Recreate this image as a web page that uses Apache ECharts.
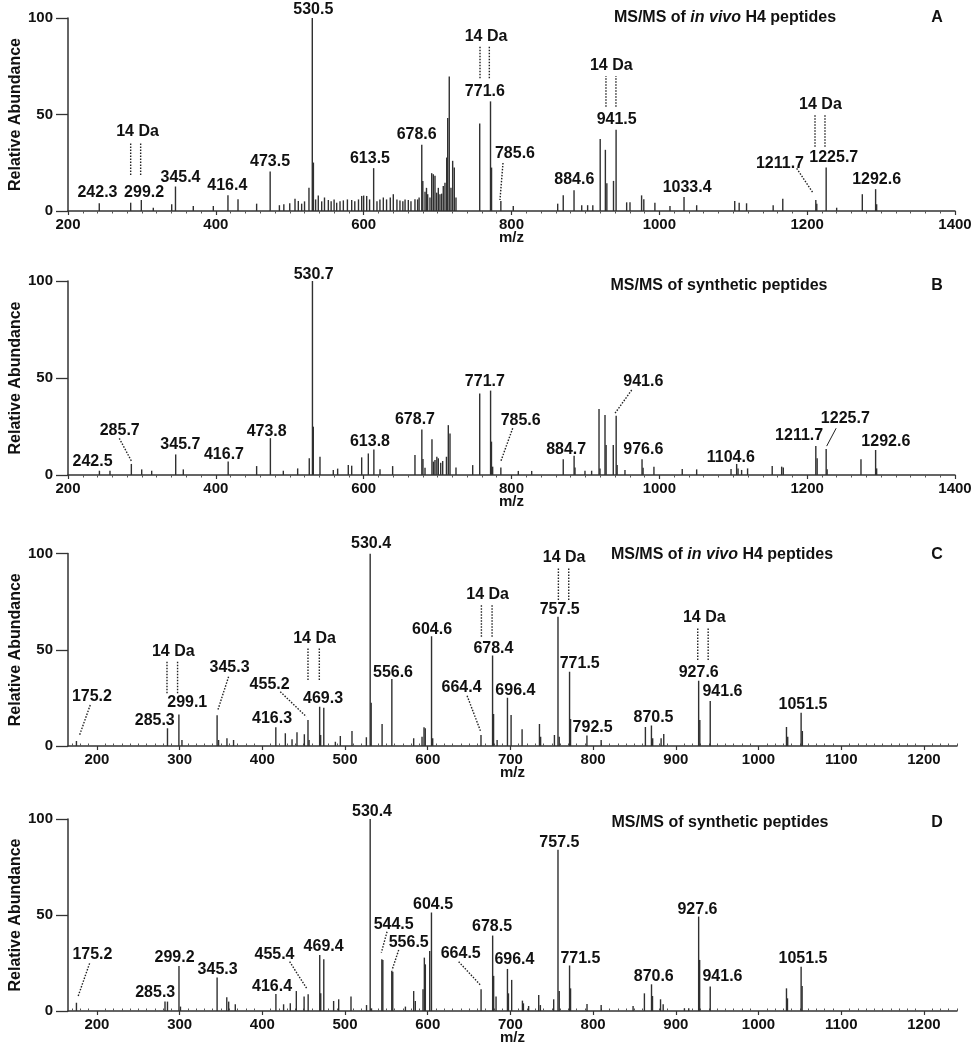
<!DOCTYPE html>
<html><head><meta charset="utf-8">
<script src="https://cdn.jsdelivr.net/npm/echarts@6/dist/echarts.min.js"></script>
<style>html,body{margin:0;padding:0;background:#fff}#c{width:975px;height:1050px}</style>
</head><body><div id="c"></div>
<script>
// ---------------- DATA ----------------
// peaks: [m/z, relative abundance]
const aPeaks = [[242.3,4.0],[284.8,4.3],[299.2,5.7],[315.4,1.7],[340.3,3.5],[345.4,12.7],[369.5,2.6],[396.6,2.6],[416.4,8.1],[430,6.1],[455.2,3.8],[473.5,20.5],[486,3],[492,3.5],[500,4],[507.1,6.4],[511.6,5.2],[516.1,3.8],[520,5],[526,12.1],[530.5,100],[532,25.1],[535,6],[538.6,8],[543.2,5],[547,7],[552.2,5.7],[556,5],[560,6],[563.5,4.3],[568,5],[572.5,5.5],[578,6],[583.8,5.7],[588,5],[593,6],[597.3,7.8],[600,8],[604.1,7.8],[608,6],[613.5,22.2],[618,5],[622,6],[626.6,7],[631,6],[636,7],[640.1,8.7],[645,6],[649.1,5.5],[653,5],[656,6],[660.4,5.7],[664,5],[669.4,6.1],[673,6],[675,7],[678.6,34.3],[680,15.6],[683,10],[685,12],[686.6,8.7],[689.7,7],[692,19.6],[694.2,19],[696.5,18.2],[698.8,9.5],[701,12],[703.2,8.7],[705.5,9],[707.7,13],[710,14.7],[712.3,27.7],[713.7,48.2],[715.8,69.7],[718.1,12],[720.4,26],[722.6,22.5],[724.9,7],[757,45.4],[771.6,56.8],[773,22.5],[785.6,5.2],[802.4,2.6],[862.5,3.8],[870,8.1],[884.6,10.7],[895,3],[903,3],[910,3],[920,37.3],[927,31.7],[929,14.4],[938,15.6],[941.5,42.1],[955.8,4.5],[960.3,4.5],[976,8.1],[979,6.1],[994,4.3],[1014.4,2.6],[1033.4,7.3],[1050.5,3],[1102,5.2],[1108,4.3],[1118,4],[1154,3],[1167,6.4],[1211.7,5.7],[1213,3.8],[1225.7,22.5],[1239.9,1.7],[1274.6,8.7],[1292.6,11.3],[1294,3.5]];
const bPeaks = [[242.5,2.2],[256.8,2.2],[285.7,5.7],[299.7,2.9],[313.2,2.2],[345.7,10.6],[356,2.9],[416.7,7],[455.2,4.6],[473.8,19],[491.3,2.2],[510.7,3.4],[526.4,8.6],[530.7,100],[531.9,24.9],[540.9,9.4],[558.9,2.6],[564.8,3.3],[579.2,5.1],[583.8,4.8],[597.3,9.1],[606.3,11.1],[613.8,13.2],[622.1,2.9],[639.2,4.6],[669.4,10.3],[678.7,23.5],[680.2,8.2],[683,3.8],[692.4,18.4],[694.5,6.9],[696.5,7.7],[699,9.4],[701,8.6],[704.2,6.3],[706.9,7.2],[712,9.4],[714.5,25.7],[716.8,21.4],[724.9,3.9],[747.5,5.1],[757,42],[771.7,43.5],[772.9,17.2],[774.5,4.3],[785.6,3.9],[809.2,2.1],[827.3,2.1],[870,8.1],[884.7,9.9],[885.9,3.9],[899.4,2.2],[908.4,2.2],[918.4,34],[919.7,3.4],[926.5,30.9],[928,15.4],[937.7,15.4],[941.6,30.5],[942.9,5.1],[953.5,2.6],[976.6,8.1],[978,3.8],[992.7,4.3],[1031,3.1],[1050.5,2.9],[1097,3.1],[1104.6,5.7],[1106.5,3.4],[1111.3,2.6],[1119.4,3.4],[1152.7,4.6],[1165.5,4.3],[1167.7,3.9],[1211.7,14.9],[1213.5,8.6],[1225.7,13.4],[1227,2.9],[1272.8,8.1],[1292.6,12.9],[1294,3.4]];
const cPeaks = [[175.2,2.6],[285.3,9.2],[299.1,16.4],[302.8,3.1],[345.3,16],[347.1,3.1],[357.2,4],[365.2,3.1],[416.3,9.7],[427.8,6.6],[435.9,3.5],[441.9,7.1],[450.8,6.1],[455.2,13.5],[456.5,3.1],[469.3,20.4],[470.5,5.7],[474.3,19.9],[488.3,2.2],[494.3,5.2],[508.4,7.8],[525.8,4.5],[530.4,100],[531.6,22.5],[544.8,11.4],[556.6,34.8],[583,4],[593.1,4.8],[595.5,9.7],[597,9.2],[604.6,57],[606,4],[664.4,5.7],[678.4,47],[679.6,16.6],[683.9,3.1],[696.4,25.1],[700.8,16.1],[714.1,8.7],[735.1,11.4],[736.5,4.8],[753.2,5.7],[757.5,67.1],[759,4.8],[771.5,38.6],[772.7,14],[792.5,5.4],[809.7,3.1],[863.2,9.9],[870.5,10.6],[872,4],[882.2,4],[885.4,6.2],[927.6,33.9],[929,13.5],[941.6,23.4],[1033.8,9.9],[1035.3,4.8],[1051.5,17.3],[1053,7.8]];
const dPeaks = [[175.2,4.3],[282.3,4.9],[285.3,4.9],[299.2,23.5],[301,2.3],[345.3,17.4],[357,7.1],[359.3,4.9],[367.3,3.5],[416.4,8.9],[425.7,3.5],[433.8,4],[441.1,10.4],[450.5,7.5],[455.4,8.7],[469.4,29.2],[470.6,9.2],[474.3,27],[486.2,5.2],[492.3,6.1],[507.2,7.5],[526,3.1],[530.4,100],[532,1.4],[544.5,27],[545.7,26.6],[556.5,20.9],[557.7,20.5],[573,2.3],[583,10.4],[585,5.2],[594.3,11.3],[595.9,27.8],[597.1,24.3],[602.4,31.3],[604.5,51.3],[664.5,11.3],[678.5,39.3],[679.7,18.3],[682.6,7.5],[696.4,21.9],[697.6,9.2],[701.5,16.2],[714.5,5.4],[715.7,4],[722,2.6],[734.2,8.3],[736.2,3.1],[752.3,6.1],[757.5,84],[759,10.4],[771.5,23.7],[772.7,11.8],[792.6,3.7],[809.7,3.1],[848.3,2.6],[862,9.2],[870.6,13.9],[871.8,7.8],[881.5,6.1],[884.7,3.5],[910.4,1.4],[915.6,1.4],[927.6,49.2],[928.8,26.6],[941.6,12.7],[1033.8,11.8],[1035,6.6],[1051.5,23.1],[1052.7,13]];

// peak labels: [text, m/z of label centre, abundance of label centre]
const aLabels = [['242.3',239.9,9.7],['299.2',303,9.7],['345.4',352.2,17.3],['416.4',415.5,13.1],['473.5',473.3,25.5],['530.5',531.9,104.1],['613.5',608.5,27.3],['678.6',671.7,39.4],['771.6',764,61.8],['785.6',804.7,29.5],['884.6',885,16.1],['941.5',942.3,47.2],['1033.4',1037.6,12.1],['1211.7',1163.2,24.7],['1225.7',1236,27.6],['1292.6',1294,16.1]];
const bLabels = [['242.5',233.2,6.9],['285.7',270,22.8],['345.7',352,15.8],['416.7',411,10.3],['473.8',468.8,22.3],['530.7',532.4,103.1],['613.8',608.5,17.2],['678.7',669.4,28.4],['771.7',764,48.3],['785.6',812.4,28],['884.7',874,13.2],['941.6',978.3,48.1],['976.6',978.3,12.9],['1104.6',1096.7,8.9],['1211.7',1189.1,20.1],['1225.7',1251.6,29.2],['1292.6',1306.4,17.2]];
const cLabels = [['175.2',193.9,25.6],['285.3',269.9,13],['299.1',309.2,22.7],['345.3',360.4,40.7],['416.3',411.7,14],['455.2',408.8,32],['469.3',473.4,24.8],['530.4',531.4,104.9],['556.6',558,38.3],['604.6',605.2,60.3],['664.4',640.9,30.3],['678.4',679.4,50.8],['696.4',706,28.7],['757.5',759.6,71],['771.5',783.8,42.6],['792.5',799.4,9.7],['870.5',873,14.7],['927.6',927.7,38.3],['941.6',956.4,28.2],['1051.5',1053.8,21.3]];
const dLabels = [['175.2',194.5,29.2],['285.3',270.5,9.5],['299.2',293.9,27.8],['345.3',345.9,21.4],['416.4',411.7,12.7],['455.4',414.7,29.5],['469.4',474.1,33.5],['530.4',532.6,103.8],['544.5',558.8,44.8],['556.5',577,35.6],['604.5',606.4,55.6],['664.5',639.9,30],['678.5',677.8,43.9],['696.4',704.8,26.6],['757.5',759.2,87.7],['771.5',784.6,27.4],['870.6',873.3,17.9],['927.6',926.2,53],['941.6',956.4,17.9],['1051.5',1053.8,27.4]];

// leader lines: [m/z1, ab1, m/z2, ab2, dotted?]
const aLeaders = [[788.5,24.9,784.4,5.7,1],[1185.8,22.1,1208.3,9.2,1]];
const bLeaders = [[269.4,18.9,286.2,6.9,1],[801.6,24.1,785.4,6.9,1],[962.6,43.8,940,31.8,1],[1239.2,24.1,1226.4,14.9,0]];
const cLeaders = [[191.9,21.3,178.6,5.2,1],[359.2,36,345.9,18.3,1],[421.7,28.2,453.2,15.2,1],[647.6,26.1,663.7,7.9,1]];
const dLeaders = [[191.1,24.8,177,7.4,1],[433,25.7,454,11.5,1],[550.8,41.3,543.9,30.4,1],[564.9,31.8,556.9,21.4,1],[637.4,25.7,663.7,13.5,1]];

// "14 Da" brackets: [m/z left, m/z right, ab bottom, ab top, text m/z, text ab]
const aDa = [[284.8,298.3,18.7,35.1,294,41.1],[757.4,770,68.8,85.1,765.5,90.3],[927.8,941.3,54,69.9,935,75.3],[1210.6,1224.1,33.3,49.7,1218,54.9]];
const bDa = [];
const cDa = [[284.7,297.5,27.4,43.8,292.3,49],[455.2,468.9,34.3,50.8,463.1,55.9],[664.9,677.8,56.8,73.2,672.4,78.4],[758,770.5,75.8,92.3,764.9,98],[926.5,939.1,44.7,61.1,934.4,66.9]];
const dDa = [];

// axes
const abRange = [200, 1400];
const cdRange = [165, 1240];
const cdTicks = [200,300,400,500,600,700,800,900,1000,1100,1200];
const yTicks = [0, 50, 100];

const panelTitles = [['MS/MS of ','in vivo',' H4 peptides','A'],['MS/MS of synthetic peptides','','','B'],['MS/MS of ','in vivo',' H4 peptides','C'],['MS/MS of synthetic peptides','','','D']];

// ---------------- LAYOUT / STYLE ----------------
const FONT = '"Liberation Sans", Arial, Helvetica, sans-serif';
const INK = '#111';
const AX = '#333';
const grids = [
  {left:68, right:20, top:18, height:193},
  {left:68, right:20, top:281, height:194},
  {left:68, right:18, top:553.5, height:192.5},
  {left:68, right:18, top:819, height:192}
].map(g => Object.assign({containLabel:false, outerBoundsMode:'none'}, g));

const cdMinor = [];
for (let v = 170; v <= 1240; v += 10) if (v % 100 !== 0) cdMinor.push(v);

const labelStyle = {fontFamily:FONT, fontWeight:'bold', fontSize:15, color:INK, formatter: v => String(v)};
function xMain(i) {
  const ab = i < 2;
  const ax = {
    gridIndex:i, type:'value', min:(ab?abRange:cdRange)[0], max:(ab?abRange:cdRange)[1],
    name:'m/z', nameLocation:'middle', nameGap:19, nameMoveOverlap:false,
    nameTextStyle:{fontFamily:FONT, fontWeight:'bold', fontSize:15, color:INK},
    axisLine:{show:true, onZero:false, lineStyle:{color:AX, width:1.5}},
    axisTick:{show:true, length:4, lineStyle:{color:AX, width:1.2}},
    axisLabel:Object.assign({margin:6}, labelStyle),
    splitLine:{show:false}
  };
  if (ab) {
    ax.interval = 200;
    ax.minorTick = {show:true, splitNumber:10, length:2.5, lineStyle:{color:'#555', width:1}};
    ax.minorSplitLine = {show:false};
  } else {
    ax.axisLabel.customValues = cdTicks;
    ax.axisTick.customValues = cdTicks;
  }
  return ax;
}
function xMinor(i) {
  return {gridIndex:i, type:'value', min:cdRange[0], max:cdRange[1],
    axisLine:{show:false}, axisLabel:{show:false}, splitLine:{show:false},
    axisTick:{show:true, length:2.5, customValues:cdMinor, lineStyle:{color:'#555', width:1}}};
}
function yAxis(i) {
  return {gridIndex:i, type:'value', min:yTicks[0], max:yTicks[yTicks.length-1], interval:50,
    name:'Relative Abundance', nameLocation:'middle', nameGap:44, nameMoveOverlap:false,
    nameTextStyle:{fontFamily:FONT, fontWeight:'bold', fontSize:16, color:INK},
    axisLine:{show:true, lineStyle:{color:AX, width:1.5}},
    axisTick:{show:true, length:12, lineStyle:{color:AX, width:1.3}},
    axisLabel:Object.assign({margin:15}, labelStyle),
    splitLine:{show:false}};
}

function sticks(i, data) {
  return {type:'custom', xAxisIndex:i, yAxisIndex:i, clip:true, silent:true, z:3,
    data: data,
    renderItem(p, api) {
      const a = api.coord([api.value(0), 0]);
      const b = api.coord([api.value(0), api.value(1)]);
      return {type:'line', shape:{x1:a[0], y1:a[1], x2:b[0], y2:b[1]},
        style:{stroke:'#303030', lineWidth:1.4}};
    }};
}
function labels(i, list) {
  return {type:'custom', xAxisIndex:i, yAxisIndex:i, clip:false, silent:true, z:5,
    data: list.map(l => [l[1], l[2]]),
    renderItem(p, api) {
      const c = api.coord([api.value(0), api.value(1)]);
      return {type:'text', x:c[0], y:c[1],
        style:{text:list[p.dataIndex][0], font:'bold 16px ' + FONT, fill:INK, align:'center', verticalAlign:'middle'}};
    }};
}
function leaders(i, list) {
  return {type:'custom', xAxisIndex:i, yAxisIndex:i, clip:false, silent:true, z:4,
    data: list.map(l => [l[0], l[1], l[2], l[3]]),
    renderItem(p, api) {
      const a = api.coord([api.value(0), api.value(1)]);
      const b = api.coord([api.value(2), api.value(3)]);
      const dotted = list[p.dataIndex][4];
      return {type:'line', shape:{x1:a[0], y1:a[1], x2:b[0], y2:b[1]},
        style:{stroke:'#222', lineWidth:dotted?1.4:1, lineDash:dotted?[1.5,1.5]:null}};
    }};
}
function brackets(i, list) {
  return {type:'custom', xAxisIndex:i, yAxisIndex:i, clip:false, silent:true, z:4,
    data: list.map(l => l.slice()),
    renderItem(p, api) {
      const l0 = api.coord([api.value(0), api.value(2)]);
      const l1 = api.coord([api.value(0), api.value(3)]);
      const r0 = api.coord([api.value(1), api.value(2)]);
      const r1 = api.coord([api.value(1), api.value(3)]);
      const t = api.coord([api.value(4), api.value(5)]);
      const ls = {stroke:'#222', lineWidth:1.4, lineDash:[1.5,1.5]};
      return {type:'group', children:[
        {type:'line', shape:{x1:l0[0], y1:l0[1], x2:l1[0], y2:l1[1]}, style:ls},
        {type:'line', shape:{x1:r0[0], y1:r0[1], x2:r1[0], y2:r1[1]}, style:ls},
        {type:'text', x:t[0], y:t[1], style:{text:'14 Da', font:'bold 16px ' + FONT, fill:INK, align:'center', verticalAlign:'middle'}}
      ]};
    }};
}

const peaks = [aPeaks, bPeaks, cPeaks, dPeaks];
const labs = [aLabels, bLabels, cLabels, dLabels];
const leads = [aLeaders, bLeaders, cLeaders, dLeaders];
const das = [aDa, bDa, cDa, dDa];

const series = [];
for (let i = 0; i < 4; i++) {
  series.push(sticks(i, peaks[i]));
  series.push(labels(i, labs[i]));
  if (leads[i].length) series.push(leaders(i, leads[i]));
  if (das[i].length) series.push(brackets(i, das[i]));
}

const titleY = [18, 286, 555, 823];
const titleX = [725, 719, 722, 720];
const graphic = [];
panelTitles.forEach((t, i) => {
  const rich = t[1]
    ? '{n|' + t[0] + '}{i|' + t[1] + '}{n|' + t[2] + '}'
    : '{n|' + t[0] + '}';
  graphic.push({type:'text', x:titleX[i], y:titleY[i], silent:true,
    style:{text:rich, align:'center', verticalAlign:'middle', fill:INK,
      rich:{n:{fontFamily:FONT, fontWeight:'bold', fontSize:16, fill:INK, color:INK},
            i:{fontFamily:FONT, fontWeight:'bold', fontStyle:'italic', fontSize:16, fill:INK, color:INK}}}});
  graphic.push({type:'text', x:937, y:titleY[i], silent:true,
    style:{text:t[3], font:'bold 16px ' + FONT, fill:INK, align:'center', verticalAlign:'middle'}});
});

const chart = echarts.init(document.getElementById('c'), null, {renderer:'canvas'});
chart.setOption({
  animation:false,
  backgroundColor:'#fff',
  grid:grids,
  xAxis:[xMain(0), xMain(1), xMain(2), xMain(3), xMinor(2), xMinor(3)],
  yAxis:[yAxis(0), yAxis(1), yAxis(2), yAxis(3)],
  series:series,
  graphic:graphic
});
</script></body></html>
